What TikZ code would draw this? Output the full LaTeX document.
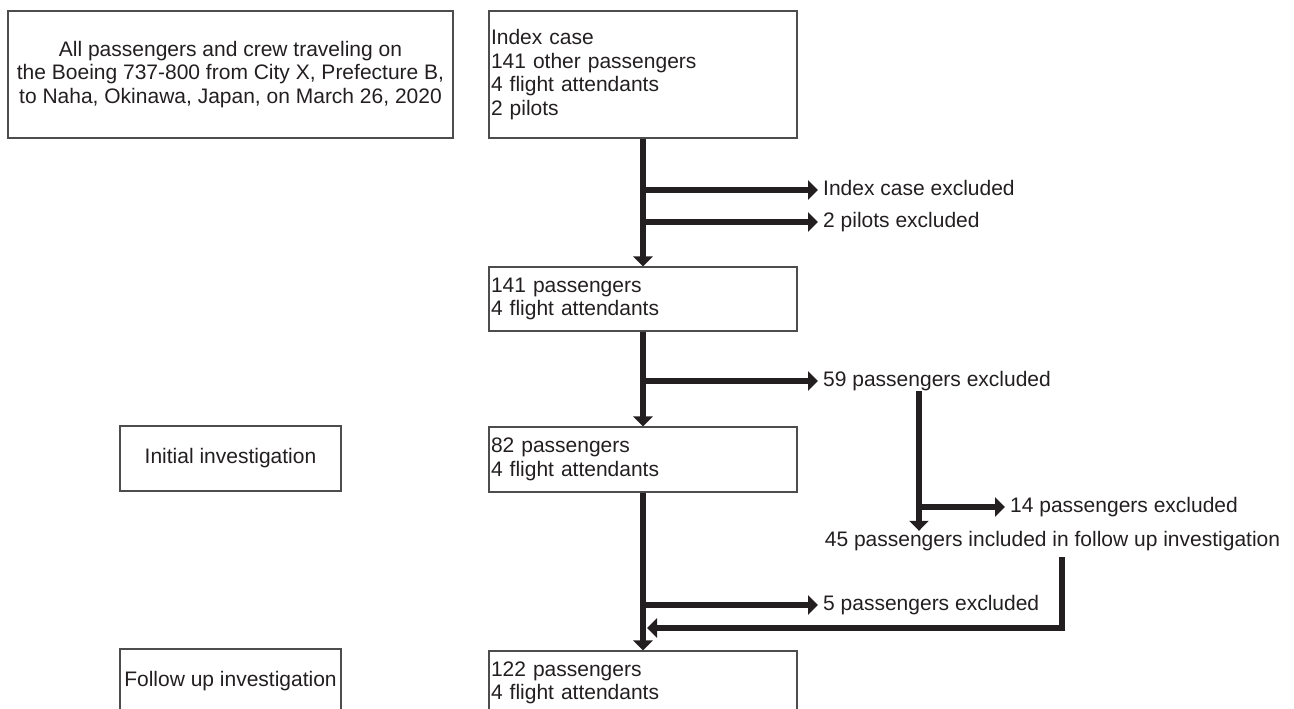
\documentclass[tikz,border=0pt]{standalone}
\usepackage{fontspec}
\setmainfont{Liberation Sans}
\usepackage{xcolor}
\usetikzlibrary{arrows.meta}
\definecolor{txt}{HTML}{231F20}
\definecolor{boxline}{HTML}{4D4D4D}

\begin{document}
\begin{tikzpicture}[x=1pt,y=-1pt,
  every node/.style={font=\fontsize{21}{23.5}\selectfont,text=txt},
  box/.style={draw=boxline,line width=1.1pt,inner xsep=2pt,inner ysep=0pt},
  stepbox/.style={box,align=left,text width=304pt},
  side/.style={box,align=center,minimum width=221pt,minimum height=65pt},
  note/.style={inner xsep=5pt,inner ysep=0pt,text height=15pt,text depth=5pt},
  flow/.style={draw=txt,line width=6pt,-{Triangle[length=10pt,width=19pt]}}]
\useasboundingbox (0,0) rectangle (1294,709);
\clip (0,0) rectangle (1294,709);

\node[box,align=center,minimum width=445pt,minimum height=127pt] (allpax) at (230.5,74.5) {All passengers and crew traveling on\\the Boeing 737-800 from City X, Prefecture B,\\to Naha, Okinawa, Japan, on March 26, 2020};
\node[stepbox,minimum height=127pt] (index) at (643,74.5) {Index case\\141 other passengers\\4 flight attendants\\2 pilots};
\node[stepbox,minimum height=64pt] (pax141) at (643,299) {141 passengers\\4 flight attendants};
\node[stepbox,minimum height=65pt] (pax82) at (643,459.5) {82 passengers\\4 flight attendants};
\node[stepbox,minimum height=64pt] (pax122) at (643,683) {122 passengers\\4 flight attendants};
\node[side] (initial) at (230.5,458.5) {Initial investigation};
\node[side] (followup) at (230.5,681.5) {Follow up investigation};

\node[note,anchor=west] (excl1) at (818,190) {Index case excluded};
\node[note,anchor=west] (excl2) at (818,222) {2 pilots excluded};
\node[note,anchor=west] (excl59) at (818,381) {59 passengers excluded};
\node[note,anchor=west] (excl14) at (1005,507) {14 passengers excluded};
\node[note] (incl45) at (1052.5,541) {45 passengers included in follow up investigation};
\node[note,anchor=west] (excl5) at (818,605) {5 passengers excluded};
\coordinate (split) at (919,507);
\coordinate (merge) at (647,628);

\draw[flow] (index) -- (pax141);
\draw[flow] (pax141) -- (pax82);
\draw[flow] (pax82) -- (pax122);
\draw[flow] (index.south |- excl1.west) -- (excl1.west);
\draw[flow] (index.south |- excl2.west) -- (excl2.west);
\draw[flow] (pax141.south |- excl59.west) -- (excl59.west);
\draw[flow] (split |- excl59.south) -- (split |- incl45.north);
\draw[flow] (split) -- (excl14.west);
\draw[flow] (pax82.south |- excl5.west) -- (excl5.west);
\draw[flow] ([shift={(9.5,6)}]incl45.south) |- (merge);
\end{tikzpicture}
\end{document}
